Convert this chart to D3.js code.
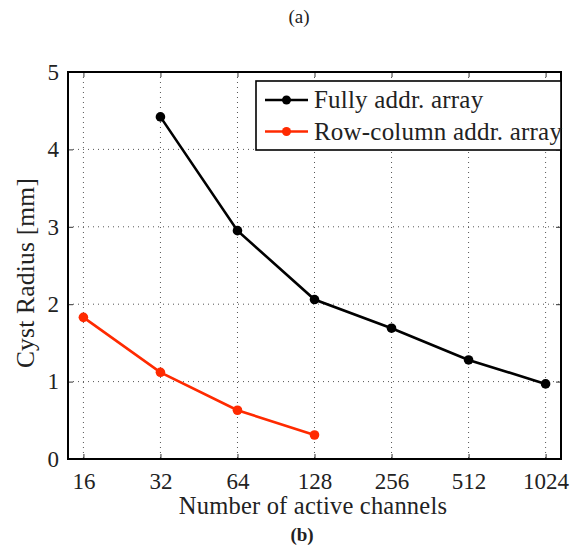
<!DOCTYPE html>
<html>
<head>
<meta charset="utf-8">
<script src="https://cdn.jsdelivr.net/npm/d3@7"></script>
<style>
  body { margin: 0; background: #fff; }
  svg text { font-family: "Liberation Serif", "DejaVu Serif", serif; fill: #222; }
</style>
</head>
<body>
<svg width="579" height="547"></svg>
<script>
// data
const channels = [16, 32, 64, 128, 256, 512, 1024];
const fullyX = [32, 64, 128, 256, 512, 1024];
const fullyY = [4.42, 2.95, 2.06, 1.69, 1.28, 0.97];
const rowcolX = [16, 32, 64, 128];
const rowcolY = [1.83, 1.12, 0.63, 0.31];
const yTicks = [0, 1, 2, 3, 4, 5];
const seriesNames = ['Fully addr. array', 'Row-column addr. array'];
const colors = ['#000000', '#ff2a00'];

const svg = d3.select('svg');
const m = {left: 68, right: 561, top: 72, bottom: 459};

const x = d3.scaleLog().base(2)
    .domain([Math.pow(2, 3.8), Math.pow(2, 10.2)])
    .range([m.left, m.right]);
const y = d3.scaleLinear().domain([0, 5]).range([m.bottom, m.top]);

// grid
const grid = svg.append('g').attr('stroke', '#555').attr('stroke-width', 1)
    .attr('stroke-dasharray', '1,4');
grid.selectAll('.gx').data(channels).join('line')
    .attr('x1', d => x(d)).attr('x2', d => x(d))
    .attr('y1', m.top).attr('y2', m.bottom);
grid.selectAll('.gy').data(yTicks.slice(1, -1)).join('line')
    .attr('y1', d => y(d)).attr('y2', d => y(d))
    .attr('x1', m.left).attr('x2', m.right);

// axes (ticks pointing inward, on all four sides)
const xb = svg.append('g').attr('transform', `translate(0,${m.bottom})`)
    .call(d3.axisBottom(x).tickValues(channels).tickFormat(d3.format('d')).tickSizeInner(-5).tickSizeOuter(0).tickPadding(14));
const xt = svg.append('g').attr('transform', `translate(0,${m.top})`)
    .call(d3.axisTop(x).tickValues(channels).tickFormat('').tickSizeInner(-5).tickSizeOuter(0));
const yl = svg.append('g').attr('transform', `translate(${m.left},0)`)
    .call(d3.axisLeft(y).tickValues(yTicks).tickFormat(d3.format('d')).tickSizeInner(-5).tickSizeOuter(0).tickPadding(9));
const yr = svg.append('g').attr('transform', `translate(${m.right},0)`)
    .call(d3.axisRight(y).tickValues(yTicks).tickFormat('').tickSizeInner(-5).tickSizeOuter(0));

[xb, xt, yl, yr].forEach(g => {
    g.select('.domain').remove();
    g.selectAll('.tick line').attr('stroke', '#333');
});
xb.selectAll('text').attr('font-size', 23).attr('fill', '#222');
yl.selectAll('text').attr('font-size', 23).attr('fill', '#222');

// frame
svg.append('rect')
    .attr('x', m.left).attr('y', m.top)
    .attr('width', m.right - m.left).attr('height', m.bottom - m.top)
    .attr('fill', 'none').attr('stroke', '#000').attr('stroke-width', 2);

// lines
const line = d3.line().x(d => x(d[0])).y(d => y(d[1]));
const series = [
    d3.zip(fullyX, fullyY),
    d3.zip(rowcolX, rowcolY)
];
series.forEach((s, i) => {
    svg.append('path').datum(s)
        .attr('d', line).attr('fill', 'none')
        .attr('stroke', colors[i]).attr('stroke-width', 2.6);
    svg.selectAll('.pt' + i).data(s).join('circle')
        .attr('cx', d => x(d[0])).attr('cy', d => y(d[1]))
        .attr('r', 4.8).attr('fill', colors[i]);
});

// legend
const lg = svg.append('g');
lg.append('rect').attr('x', 256).attr('y', 81).attr('width', 305).attr('height', 69)
    .attr('fill', '#fff').attr('stroke', '#000').attr('stroke-width', 1.6);
seriesNames.forEach((n, i) => {
    const ly = 100 + i * 31.5;
    lg.append('line').attr('x1', 265).attr('x2', 308).attr('y1', ly).attr('y2', ly)
        .attr('stroke', colors[i]).attr('stroke-width', 2.6);
    lg.append('circle').attr('cx', 286.5).attr('cy', ly).attr('r', 4.5).attr('fill', colors[i]);
    lg.append('text').attr('x', 314).attr('y', ly + 8).attr('font-size', 25)
        .attr('letter-spacing', 0.2).text(n);
});

// labels
svg.append('text').attr('x', 313).attr('y', 514).attr('text-anchor', 'middle')
    .attr('font-size', 24.5).attr('letter-spacing', 0.2).text('Number of active channels');
svg.append('text').attr('transform', 'translate(34,273) rotate(-90)').attr('text-anchor', 'middle')
    .attr('font-size', 25.5).attr('letter-spacing', 0.2).text('Cyst Radius [mm]');
svg.append('text').attr('x', 299).attr('y', 23).attr('text-anchor', 'middle')
    .attr('font-size', 19).attr('fill', '#000').text('(a)');
svg.append('text').attr('x', 302).attr('y', 541).attr('text-anchor', 'middle')
    .attr('font-size', 19).attr('font-weight', 'bold').attr('fill', '#000').text('(b)');
</script>
</body>
</html>
